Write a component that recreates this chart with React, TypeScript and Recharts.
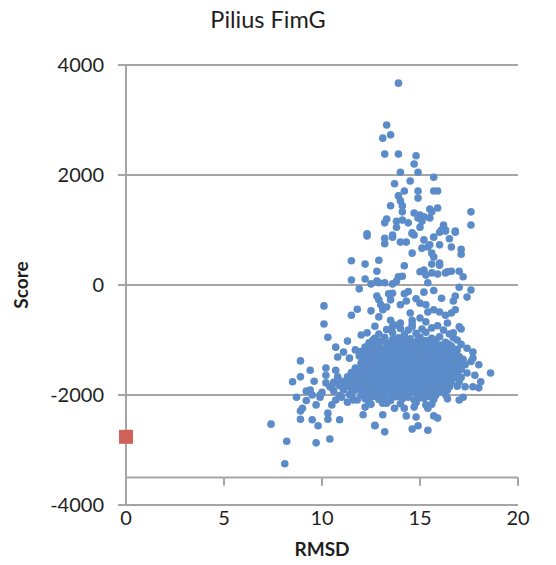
import React from 'react';
import { ScatterChart, Scatter, XAxis, YAxis, CartesianGrid, ReferenceLine, Label } from 'recharts';

// RMSD (Å) vs docking score for the FimG pilus subunit
const upperScatter: [number, number][] = [
  [13.9, 3670], [13.3, 2910], [13.1, 2670], [13.5, 2730], [13.2, 2380], [13.9, 2380],
  [14.8, 2350], [14.7, 2200], [14.9, 2050], [14.0, 2050], [15.7, 1960], [13.7, 1840],
  [14.5, 1890], [14.2, 1710], [14.9, 1710], [14.9, 1580], [15.7, 1710], [15.9, 1710],
  [13.9, 1620], [14.0, 1530], [14.1, 1440], [13.5, 1440], [14.1, 1330], [14.7, 1310],
  [15.0, 1270], [15.5, 1380], [15.9, 1400], [15.6, 1330], [17.6, 1330], [17.6, 1090],
  [13.3, 1200], [13.2, 1130], [13.8, 1160], [13.8, 1050], [14.1, 1180], [14.4, 1130],
  [14.9, 1220], [15.1, 1160], [15.0, 1050], [15.2, 1240], [15.5, 1220], [16.2, 1090],
  [16.1, 1000], [16.3, 1000], [16.8, 980], [12.3, 930], [13.6, 910], [14.6, 950],
];

const middleScatter: [number, number][] = [
  [12.3, 890], [13.2, 850], [13.6, 870], [13.2, 750], [14.0, 780], [14.3, 780],
  [14.6, 930], [14.7, 910], [15.2, 820], [15.4, 690], [15.5, 730], [15.7, 870],
  [16.0, 960], [16.3, 980], [16.8, 960], [16.0, 730], [16.5, 840], [16.6, 690],
  [17.1, 650], [17.1, 560], [14.6, 580], [15.1, 670], [15.6, 580], [15.7, 510],
  [11.5, 440], [12.2, 380], [12.9, 450], [12.8, 250], [14.2, 350], [15.6, 380],
  [16.0, 360], [15.2, 270], [15.3, 180], [15.6, 220], [16.4, 240], [16.3, 220],
  [16.6, 250], [17.0, 250], [17.2, 150], [11.5, 90], [12.2, 110], [12.8, 70],
  [12.9, 40], [12.5, 20], [13.2, 40], [13.6, 20], [13.9, 150], [14.1, 160],
  [13.8, 70], [16.0, 400], [15.0, 240], [15.9, 200], [15.4, 40],
  [11.9, -70], [17.0, -40], [17.6, -90], [12.8, -200], [12.9, -270], [13.4, -160],
  [13.6, -150], [13.5, -270], [14.2, -160], [14.3, -290], [14.0, -360], [15.2, -130],
  [14.8, -250], [15.0, -330], [15.3, -360], [16.1, -240], [16.8, -200], [16.7, -290],
  [17.4, -220], [10.1, -380], [10.1, -710], [11.8, -440], [11.5, -550], [12.5, -470],
  [13.0, -360], [13.1, -450], [13.3, -400], [12.9, -580], [13.5, -640], [13.6, -760],
  [14.0, -690], [14.5, -510], [14.6, -640], [14.6, -760], [15.0, -600], [15.3, -670],
  [15.4, -490], [15.7, -450], [16.0, -490], [16.3, -550], [16.6, -510], [16.8, -450],
  [16.4, -690], [17.0, -760], [10.3, -950], [17.1, -800], [16.7, -870], [16.7, -960],
  [14.4, -120], [15.7, -100],
];

const lowerLeftScatter: [number, number][] = [
  [8.9, -1380], [9.4, -1550], [8.9, -1670], [8.5, -1760], [9.6, -1750], [9.2, -1930],
  [9.4, -1910], [8.7, -2040], [9.0, -2240], [8.9, -2290], [8.9, -2440], [9.5, -2450],
  [9.8, -2560], [10.3, -2440], [10.3, -2330], [10.9, -2450], [7.4, -2530], [8.2, -2840],
  [9.7, -2870], [10.4, -2800], [8.1, -3250], [10.7, -1130], [10.8, -1310], [11.1, -1220],
  [11.3, -1020], [11.7, -1180], [11.4, -1330], [12.0, -910], [12.3, -870], [12.7, -750],
  [12.6, -1000], [10.2, -1510], [10.2, -1640], [10.7, -1550], [10.8, -1670], [10.6, -1780],
  [10.2, -1780], [10.5, -1870], [10.0, -1950], [9.9, -2040], [9.7, -2180], [10.5, -2180],
  [10.7, -2090], [11.0, -2040], [11.3, -2130], [10.8, -1730], [11.1, -1850], [11.4, -1780],
  [11.7, -1910], [11.5, -2000], [11.8, -2090], [12.1, -2360], [12.7, -2560], [12.2, -2220],
  [12.4, -2150], [12.0, -1420], [12.2, -1550], [12.3, -1670], [11.8, -1670], [11.7, -1550],
  [9.2, -2100], [9.9, -2000], [9.5, -2000],
];

const lowerRightScatter: [number, number][] = [
  [17.4, -1150], [17.7, -1220], [17.7, -1330], [18.0, -1450], [18.6, -1600], [17.8, -1640],
  [18.1, -1760], [17.7, -1850], [18.0, -1870], [17.3, -1850], [17.2, -2040], [17.0, -2090],
  [13.1, -2360], [13.2, -2670], [14.3, -2380], [14.8, -2400], [15.7, -2380], [15.9, -2420],
  [15.4, -2640], [14.6, -2620], [14.9, -2560], [12.7, -2550], [13.7, -2240], [14.2, -2240],
  [14.7, -2220], [15.3, -2180], [15.4, -2240], [13.1, -2150], [13.4, -2090], [16.5, -1090],
  [17.1, -1080], [16.9, -1000], [17.6, -1390],
];

const coreCloud: [number, number][] = [
  [13.7, -730], [14.6, -710], [15.9, -740],
  [13.3, -810], [14.0, -790], [14.4, -820], [15.1, -800], [15.6, -780], [16.2, -820],
  [12.9, -890], [13.6, -870], [14.2, -900], [14.8, -880], [15.3, -860], [16.5, -890],
  [12.7, -970], [13.2, -950], [13.9, -960], [14.5, -980], [15.0, -950], [15.6, -970], [16.0, -940],
  [12.4, -1050], [13.0, -1030], [13.5, -1060], [13.8, -1040], [14.3, -1020], [14.7, -1050], [15.2, -1030], [15.8, -1060], [16.3, -1040],
  [12.2, -1130], [12.7, -1110], [13.3, -1120], [13.7, -1140], [14.1, -1110], [14.5, -1130], [14.9, -1100], [15.4, -1130], [15.7, -1120], [16.1, -1140], [16.6, -1110],
  [12.0, -1210], [12.5, -1190], [12.9, -1200], [13.4, -1220], [13.8, -1190], [14.2, -1210], [14.6, -1180], [15.0, -1200], [15.3, -1220], [15.7, -1190], [16.0, -1210], [16.4, -1200], [16.9, -1180],
  [11.9, -1290], [12.3, -1270], [12.8, -1280], [13.2, -1300], [13.6, -1270], [13.9, -1290], [14.4, -1260], [14.8, -1280], [15.1, -1300], [15.5, -1270], [15.9, -1290], [16.2, -1260], [16.6, -1280], [17.0, -1300],
  [12.1, -1350], [12.6, -1360], [13.0, -1380], [13.4, -1350], [13.8, -1370], [14.1, -1340], [14.5, -1360], [14.9, -1380], [15.3, -1350], [15.6, -1370], [16.0, -1340], [16.4, -1360], [16.8, -1380], [17.2, -1350],
  [12.0, -1430], [12.4, -1440], [12.8, -1460], [13.2, -1430], [13.5, -1450], [13.9, -1420], [14.3, -1440], [14.7, -1460], [15.1, -1430], [15.4, -1450], [15.8, -1420], [16.2, -1440], [16.5, -1460], [16.9, -1430], [17.3, -1450],
  [11.7, -1510], [12.2, -1520], [12.6, -1540], [13.0, -1510], [13.3, -1530], [13.7, -1500], [14.1, -1520], [14.4, -1540], [14.8, -1510], [15.2, -1530], [15.6, -1500], [15.9, -1520], [16.3, -1540], [16.7, -1510], [17.1, -1530],
  [11.5, -1590], [11.9, -1600], [12.4, -1620], [12.8, -1590], [13.1, -1610], [13.5, -1580], [13.9, -1600], [14.3, -1620], [14.6, -1590], [15.0, -1610], [15.4, -1580], [15.7, -1600], [16.1, -1620], [16.5, -1590], [16.9, -1610], [17.4, -1600],
  [10.8, -1690], [11.3, -1670], [11.7, -1680], [12.2, -1700], [12.6, -1670], [13.0, -1690], [13.4, -1660], [13.7, -1680], [14.1, -1700], [14.5, -1670], [14.9, -1690], [15.2, -1660], [15.6, -1680], [16.0, -1700], [16.3, -1670], [16.7, -1690], [17.1, -1680],
  [10.6, -1770], [11.0, -1750], [11.5, -1760], [12.0, -1780], [12.4, -1750], [12.8, -1770], [13.2, -1740], [13.6, -1760], [14.0, -1780], [14.3, -1750], [14.7, -1770], [15.1, -1740], [15.5, -1760], [15.8, -1780], [16.2, -1750], [16.6, -1770], [17.0, -1760],
  [10.4, -1850], [10.9, -1830], [11.3, -1840], [11.8, -1860], [12.2, -1830], [12.6, -1850], [13.0, -1820], [13.4, -1840], [13.8, -1860], [14.2, -1830], [14.6, -1850], [14.9, -1820], [15.3, -1840], [15.7, -1860], [16.1, -1830], [16.5, -1850], [16.9, -1840],
  [10.6, -1930], [11.1, -1910], [11.6, -1920], [12.1, -1940], [12.5, -1910], [12.9, -1930], [13.3, -1900], [13.7, -1920], [14.1, -1940], [14.5, -1910], [14.8, -1930], [15.2, -1900], [15.6, -1920], [16.0, -1940], [16.4, -1910],
  [10.9, -2010], [11.4, -1990], [12.0, -2000], [12.7, -2020], [13.1, -1990], [13.6, -2010], [14.0, -1980], [14.4, -2000], [14.9, -2020], [15.4, -1990], [15.8, -2010], [16.3, -1990],
  [11.6, -2090], [12.2, -2070], [12.9, -2080], [13.5, -2100], [14.1, -2070], [14.7, -2090], [15.2, -2060], [15.7, -2080], [16.4, -2070],
  [12.5, -2170], [13.3, -2150], [14.0, -2160], [14.8, -2140], [15.6, -2170],
];

// Densest part of the cloud, between the rows above
const coreInfill: [number, number][] = [
  [13.2, -1000], [13.6, -990], [14.0, -1010], [14.4, -1000], [14.9, -990], [15.3, -1010], [15.8, -1000],
  [12.9, -1080], [13.4, -1090], [13.9, -1070], [14.3, -1080], [14.8, -1090], [15.1, -1070], [15.5, -1080], [16.0, -1090], [16.4, -1070],
  [12.5, -1160], [13.0, -1170], [13.5, -1150], [14.0, -1160], [14.3, -1170], [14.7, -1150], [15.2, -1160], [15.6, -1170], [15.9, -1150], [16.3, -1160], [16.8, -1170],
  [12.2, -1240], [12.7, -1250], [13.1, -1230], [13.6, -1240], [14.0, -1250], [14.4, -1230], [14.8, -1240], [15.2, -1250], [15.5, -1230], [15.8, -1240], [16.2, -1250], [16.7, -1230],
  [12.4, -1320], [12.9, -1330], [13.3, -1310], [13.7, -1320], [14.2, -1330], [14.6, -1310], [15.0, -1320], [15.4, -1330], [15.8, -1310], [16.1, -1320], [16.5, -1330], [16.9, -1310],
  [12.3, -1400], [12.8, -1410], [13.2, -1390], [13.6, -1400], [14.0, -1410], [14.3, -1390], [14.7, -1400], [15.1, -1410], [15.5, -1390], [15.9, -1400], [16.2, -1410], [16.6, -1390], [17.0, -1400],
  [12.1, -1480], [12.5, -1490], [12.9, -1470], [13.4, -1480], [13.8, -1490], [14.2, -1470], [14.6, -1480], [14.9, -1490], [15.3, -1470], [15.7, -1480], [16.1, -1490], [16.5, -1470], [16.9, -1480],
  [11.9, -1560], [12.4, -1570], [12.8, -1550], [13.2, -1560], [13.6, -1570], [14.0, -1550], [14.3, -1560], [14.7, -1570], [15.1, -1550], [15.5, -1560], [15.8, -1570], [16.2, -1550], [16.6, -1560],
  [11.6, -1640], [12.1, -1650], [12.6, -1630], [13.0, -1640], [13.3, -1650], [13.7, -1630], [14.1, -1640], [14.5, -1650], [14.8, -1630], [15.2, -1640], [15.6, -1650], [15.9, -1630], [16.4, -1640], [16.8, -1650],
  [11.3, -1720], [11.8, -1730], [12.3, -1710], [12.7, -1720], [13.1, -1730], [13.5, -1710], [13.9, -1720], [14.2, -1730], [14.6, -1710], [15.0, -1720], [15.3, -1730], [15.7, -1710], [16.1, -1720], [16.5, -1730],
  [11.1, -1800], [11.6, -1810], [12.1, -1790], [12.5, -1800], [12.9, -1810], [13.3, -1790], [13.7, -1800], [14.1, -1810], [14.5, -1790], [14.8, -1800], [15.2, -1810], [15.6, -1790], [16.0, -1800], [16.4, -1810],
  [11.5, -1880], [12.0, -1890], [12.4, -1870], [12.8, -1880], [13.2, -1890], [13.6, -1870], [14.0, -1880], [14.4, -1890], [14.7, -1870], [15.1, -1880], [15.5, -1890], [15.9, -1870], [16.3, -1880],
  [12.3, -1960], [12.7, -1970], [13.1, -1950], [13.5, -1960], [13.9, -1970], [14.3, -1950], [14.6, -1960], [15.0, -1970], [15.4, -1950], [15.8, -1960],
  [12.5, -2040], [13.2, -2050], [13.8, -2030], [14.4, -2040], [15.0, -2050], [15.5, -2030],
];

// Native (reference) pose
const nativePose: [number, number][] = [[0, -2760]];

const xTicks = [0, 5, 10, 15, 20];
const yTicks = [-4000, -2000, 0, 2000, 4000];
const axisCrossing = -3500;
const titleText = 'Pilius FimG';
const xTitle = 'RMSD';
const yTitle = 'Score';

const toPoints = (rows: [number, number][]) => rows.map(([x, y]) => ({ x, y }));
const decoys = toPoints([
  ...upperScatter,
  ...middleScatter,
  ...lowerLeftScatter,
  ...lowerRightScatter,
  ...coreCloud,
  ...coreInfill,
]);
const native = toPoints(nativePose);

const GRID = '#A5A5A5';
const FONT = 'Lato, "Open Sans", sans-serif';
const tickStyle = { fontSize: 20, fill: '#1E1E1E', fontFamily: FONT };

const Dot = (p: any) => <circle cx={p.cx} cy={p.cy} r={3.8} fill="#5B8CC9" />;
const Square = (p: any) => <rect x={p.cx - 7} y={p.cy - 7} width={14} height={14} fill="#D0625C" />;

export default function App() {
  return (
    <div style={{ position: 'absolute', left: 0, top: 0, width: 556, height: 565, background: '#fff' }}>
      <ScatterChart width={556} height={565} margin={{ top: 65, right: 38, bottom: 0, left: 0 }}>
        <CartesianGrid horizontal vertical={false} stroke={GRID} strokeWidth={2} />
        <XAxis
          type="number"
          dataKey="x"
          domain={[0, 20]}
          ticks={xTicks}
          height={60}
          axisLine={false}
          tickLine={false}
          tickSize={0}
          tickMargin={6}
          tick={tickStyle}
        >
          <Label
            content={() => (
              <text x={322} y={556} textAnchor="middle" fontSize={19} fontWeight="bold" fontFamily={FONT} fill="#1E1E1E">
                {xTitle}
              </text>
            )}
          />
        </XAxis>
        <YAxis
          type="number"
          dataKey="y"
          domain={[-4000, 4000]}
          ticks={yTicks}
          width={126}
          axisLine={{ stroke: GRID, strokeWidth: 2 }}
          tickLine={{ stroke: GRID, strokeWidth: 2 }}
          tickSize={8}
          tickMargin={14}
          tick={tickStyle}
        >
          <Label
            content={() => (
              <text
                x={28}
                y={285}
                transform="rotate(-90 28 285)"
                textAnchor="middle"
                fontSize={19}
                fontWeight="bold"
                fontFamily={FONT}
                fill="#1E1E1E"
              >
                {yTitle}
              </text>
            )}
          />
        </YAxis>
        <ReferenceLine y={axisCrossing} stroke={GRID} strokeWidth={2} />
        {xTicks.slice(1).map((t) => (
          <ReferenceLine
            key={t}
            segment={[{ x: t, y: axisCrossing }, { x: t, y: axisCrossing - 150 }]}
            stroke={GRID}
            strokeWidth={2}
          />
        ))}
        <Scatter data={decoys} shape={Dot} isAnimationActive={false} />
        <Scatter data={native} shape={Square} isAnimationActive={false} />
        <text x={268} y={28} textAnchor="middle" fontSize={23.5} fontFamily={FONT} fill="#1E1E1E">
          {titleText}
        </text>
      </ScatterChart>
    </div>
  );
}
